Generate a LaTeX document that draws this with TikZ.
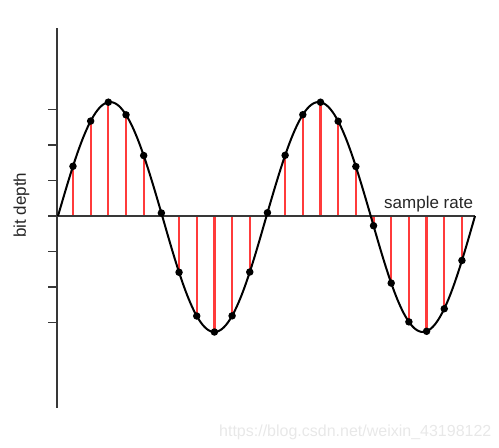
\documentclass[tikz,border=0pt]{standalone}
\usepackage{fontspec}
\newfontfamily\arialf{Liberation Sans}
\definecolor{axisgray}{HTML}{383838}
\definecolor{stemred}{HTML}{FF3B3B}
\definecolor{wmgray}{HTML}{E8E8E8}
\begin{document}
\begin{tikzpicture}[x=1pt,y=-1pt,
  axisline/.style={draw=axisgray,line width=2pt},
  tickline/.style={draw=axisgray,line width=1.8pt},
  stem/.style={draw=stemred,line width=2.2pt},
  wave/.style={draw=black,line width=2pt},
  sampledot/.style={circle,fill=black,inner sep=0pt,minimum size=7.5pt},
  lbl/.style={font=\arialf\fontsize{17}{20}\selectfont,inner sep=0pt,text=black!85},
  wm/.style={font=\arialf\fontsize{16}{19}\selectfont,inner sep=0pt,text=wmgray}]
\useasboundingbox (0,0) rectangle (499,448);
\coordinate (o) at (57,216);
\coordinate (ytop) at (57,28);
\coordinate (ybot) at (57,408);
\coordinate (xend) at (475,216);
% stems
\foreach \k in {1,...,23}{
  \pgfmathsetmacro\xx{55.3+17.68*\k}
  \pgfmathsetmacro\ss{sin((\xx-58)/208.5*360)}
  \pgfmathsetmacro\yy{216-(\ss>0?114:116)*\ss}
  \coordinate (b\k) at (\xx,216);
  \coordinate (p\k) at (\xx,\yy);
  \draw[stem] (b\k) -- (p\k);
}
% axes
\draw[axisline] (ytop) -- (ybot);
\draw[axisline] (o) -- (xend);
\foreach \t [count=\i] in {109.5,145,180.5,216,251.5,287,322.5}{
  \coordinate (t\i) at (48,\t);
  \coordinate (u\i) at (57,\t);
  \draw[tickline] (t\i) -- (u\i);
}
% wave
\draw[wave] plot[domain=58:475,samples=200,smooth]
  (\x,{216-(sin((\x-58)/208.5*360)>0?114:116)*sin((\x-58)/208.5*360)});
% dots
\foreach \k in {1,...,23}{
  \node[sampledot] (s\k) at (p\k) {};
}
% labels
\node[lbl,anchor=base west] (sr) at (384,208) {sample rate};
\node[lbl,anchor=base west,rotate=90] (bd) at (26,238) {bit depth};
\node[wm,anchor=base west] (wmk) at (219,436) {https://blog.csdn.net/weixin\_43198122};
\end{tikzpicture}
\end{document}
